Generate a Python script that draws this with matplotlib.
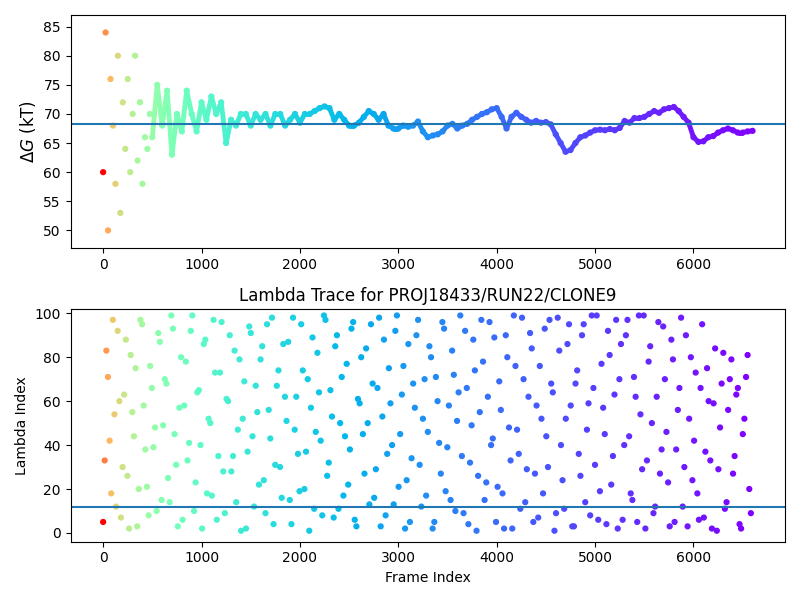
import numpy as np
import matplotlib
matplotlib.use("Agg")
import matplotlib.pyplot as plt
from matplotlib.collections import LineCollection

dg_frames = [0,25,50,75,100,125,150,175,200,225,250,275,300,325,350,375,400,425,450,475,500,
             550,600,650,700,750,800,850,900,950,1000,1050,1100,1150,1200,1250,1300,1350,1400,1450,1500,
             1550,1600,1650,1700,1750,1800,1850,1900,1950,2000,2050,2100,2150,2200,2250,2300,2350,2400,
             2450,2500,2550,2600,2650,2700,2750,2800,2850,2900,2950,3000,3050,3100,3150,3200,3250,3300,
             3350,3400,3450,3500,3550,3600,3650,3700,3750,3800,3850,3900,3950,4000,4050,4100,4150,4200,
             4250,4300,4350,4400,4450,4500,4550,4600,4650,4700,4750,4800,4850,4900,4950,5000,5050,5100,
             5150,5200,5250,5300,5350,5400,5450,5500,5550,5600,5650,5700,5750,5800,5850,5900,5950,6000,
             6050,6100,6150,6200,6250,6300,6350,6400,6450,6500,6550,6600]
dg_values = [60,84,50,76,68,58,80,53,72,64,76,60,70,80,62,72,58,66,64,70,66,
             75,68,74,63,70,67,74,70,67,72,69,73,70,72,65,69,68,70,70,68,
             70,69,70,68,70,70,68,69,70,68.5,70,70,70.5,71,71.3,71,69,70,
             69,68,68,68.5,69.5,70.5,70,69,70,68,67.5,67.5,68,67.8,68,68.7,67,66,
             66.3,66.5,67,68,68.3,67.5,68,68.3,69,69.5,70,70.3,70.8,71,69.5,67.5,69.5,70.2,
             69.5,69,68.5,68.8,68.5,68.6,68.2,66.5,65,63.5,63.8,65,66,66.3,66.8,67.2,67.3,67.2,
             67.4,67.2,67.6,68.8,68.5,69.3,69.3,69.5,70,70.5,70.2,70.8,71,71.2,70.5,69.5,68.5,66,
             65.2,65.3,66,66.2,66.8,67.2,67.5,67.2,66.8,66.8,67,67.1]
dg_mean = 68.2

lam_values_a = [5,83,42,97,12,60,30,88,2,55,75,20,95,38,8,66,48,91,15,70,
              25,99,45,3,80,58,33,92,10,64,40,86,18,50,97,6,73,28,61,90,
              35,14,79,52,2,94,44,67,22,85,9,56,98,31,74,16,62,87,4,47,
              36,95,20,70,57,11,82,42,99,26,65,7,90,50,17,77,38,96,3,59,
              45,84,13,68,29,98,53,8,75,40,92,21,63,2,86,34,57,97,12,70,
              46,80,5,60,27,93,39,15,72,51,99,9,66,32,88,1,55,78,23,96,
              43,5,69,18,90,48,2,76,36,98,14,62,84,27,7,52,93,30,68,1,
              98,40,11,86,58,3,74,26,95,47,8,66,99,19,57,4,81,35,97,70,
              6,90,44,15,62,99,29,2,78,50,12,96,38,70,23,88,5,56,98,30,
              3,80,42,18,66,7,75,33,59,1,48,82,14,70,27,63,4,45,71,20]
lam_values_b = [33,71,18,54,92,7,63,26,81,44,3,97,58,21,76,39,10,87,49,68,
              14,93,31,57,6,78,41,99,23,65,2,88,52,17,73,35,96,9,60,28,
              83,47,1,69,37,91,12,55,79,24,95,43,4,67,30,86,51,15,98,62,
              19,74,37,1,89,46,64,8,97,32,53,85,11,71,44,22,93,6,61,80,
              27,50,95,16,66,3,88,36,59,13,99,45,76,24,5,68,90,31,52,17,
              85,2,71,41,96,19,58,83,10,64,35,92,4,49,74,26,97,15,62,40,
              89,21,56,2,80,33,99,47,11,70,29,91,5,58,76,18,44,97,64,9,
              83,24,52,95,3,68,36,90,14,59,99,31,6,77,45,92,22,63,2,86,
              40,97,18,71,5,54,99,33,85,9,62,27,94,46,3,79,38,66,12,90,
              52,24,73,6,95,37,60,2,84,29,68,11,56,79,35,66,2,52,81,9]
lam_frames_a = list(np.arange(len(lam_values_a)) * 33)
lam_frames_b = list(np.arange(len(lam_values_b)) * 33 + 16)
lam_mean = 12

cmap = plt.get_cmap('rainbow_r')
fmax = 6600
def cval(f):
    return (np.asarray(f) / fmax) ** 0.3

fig, (ax1, ax2) = plt.subplots(2, 1, figsize=(8, 6), dpi=100)

x = np.array(dg_frames); y = np.array(dg_values)
m = x >= 500
pts = np.column_stack([x[m], y[m]]).reshape(-1, 1, 2)
segs = np.concatenate([pts[:-1], pts[1:]], axis=1)
lc = LineCollection(segs, colors=cmap(cval(x[m][:-1])), linewidth=3.5)
ax1.add_collection(lc)
ax1.scatter(x, y, c=cval(x), cmap=cmap, vmin=0, vmax=1, s=12)
ax1.axhline(dg_mean, color='tab:blue')
ax1.set_ylim(47, 87)
ax1.set_xlim(-330, 6930)
ax1.set_ylabel(r'$\Delta G$ (kT)', fontsize=12)

for fr, vals in ((lam_frames_a, lam_values_a), (lam_frames_b, lam_values_b)):
    ax2.scatter(fr, vals, c=cval(fr), cmap=cmap, vmin=0, vmax=1, s=12)
ax2.axhline(lam_mean, color='tab:blue')
ax2.set_xlim(-330, 6930)
ax2.set_ylim(-4, 102)
ax2.set_title('Lambda Trace for PROJ18433/RUN22/CLONE9')
ax2.set_xlabel('Frame Index')
ax2.set_ylabel('Lambda Index')

fig.tight_layout()
fig.savefig('out.png')
